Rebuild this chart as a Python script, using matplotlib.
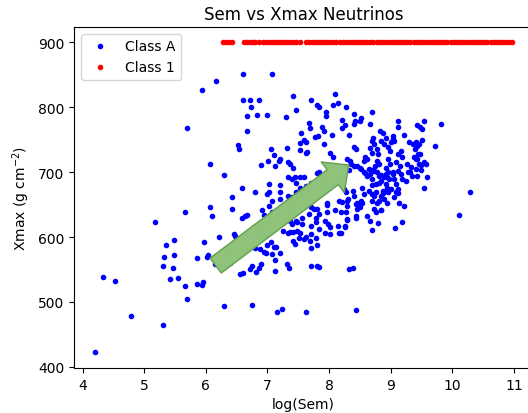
import numpy as np
import matplotlib.pyplot as plt

plt.rcParams['figure.dpi'] = 100

# (log(Sem), Xmax) for class A events
class_a_pts = [
    (4.20, 422), (4.33, 539), (4.53, 533), (4.78, 478), (5.30, 465), (5.17, 623),
    (5.35, 587), (5.48, 595), (5.32, 570), (5.48, 573), (5.31, 556), (5.46, 553),
    (5.42, 535), (5.55, 537), (5.66, 524), (5.70, 504), (5.86, 567), (5.97, 593),
    (6.04, 572), (6.02, 569), (5.85, 528), (5.93, 526), (5.96, 530), (6.22, 600),
    (5.67, 638), (6.06, 646), (6.10, 633), (6.07, 713), (5.69, 768), (5.93, 827),
    (6.17, 840), (6.60, 852), (7.08, 851),
    (6.29, 494), (6.75, 496), (7.15, 484), (7.24, 489), (7.63, 485), (8.43, 488),
    (8.32, 550), (8.39, 553), (10.10, 634), (10.28, 669), (9.81, 775), (9.72, 740),
    (9.59, 693), (9.54, 675),
    (6.60, 811), (6.72, 811), (6.86, 811), (6.74, 801), (7.42, 818), (8.10, 821),
    (7.71, 812), (7.47, 796), (7.83, 800), (7.80, 803), (7.95, 793), (7.95, 787),
    (8.14, 806), (8.07, 803), (8.27, 801), (6.67, 786), (6.83, 788), (6.99, 788),
    (7.30, 785), (7.68, 776), (7.69, 768), (7.89, 769), (7.91, 764), (8.21, 780),
    (8.25, 773), (8.21, 768), (8.40, 789), (8.42, 779), (8.41, 775), (8.69, 793),
    (8.51, 783), (8.50, 779), (8.66, 774),
    (6.67, 763), (7.55, 760), (7.82, 756), (7.77, 754), (8.04, 758), (8.32, 757),
    (7.60, 749), (7.63, 747), (7.52, 745), (7.91, 743), (6.53, 742), (6.54, 735),
    (7.06, 736), (7.31, 738), (7.52, 734), (7.64, 731), (7.63, 729), (8.40, 739),
    (8.44, 735), (8.02, 730), (8.06, 724), (7.10, 727), (7.01, 717), (7.21, 720),
    (7.19, 717), (7.34, 716), (7.36, 712), (7.13, 710), (6.90, 711), (7.41, 706),
    (8.29, 720), (8.34, 718), (8.40, 710), (8.46, 710), (8.35, 713), (8.32, 703),
    (8.50, 706),
    (6.30, 696), (7.33, 693), (7.40, 690), (7.45, 693), (7.53, 693), (7.60, 693),
    (7.83, 700), (7.80, 698), (7.47, 684), (6.59, 676), (6.80, 670), (7.02, 682),
    (7.20, 680), (6.42, 662), (6.99, 666), (7.03, 670), (7.21, 670), (7.33, 664),
    (7.40, 661), (7.53, 665), (7.80, 669), (7.53, 676), (7.47, 670), (7.62, 679),
    (7.70, 684), (8.24, 674), (8.28, 669), (8.38, 671), (8.40, 664), (8.31, 659),
    (6.42, 643), (6.67, 634), (6.58, 630), (6.91, 641), (6.94, 634), (7.02, 648),
    (7.07, 638), (7.21, 659), (7.07, 656), (6.64, 633),
    (7.37, 648), (7.42, 652), (7.48, 646), (7.29, 638), (7.37, 625), (7.47, 625),
    (7.56, 630), (7.67, 635), (7.76, 643), (7.78, 630), (7.26, 610), (7.37, 608),
    (7.48, 610), (6.45, 605), (6.48, 601), (6.64, 598), (6.68, 590), (6.76, 587),
    (6.79, 583), (7.00, 588), (7.10, 584), (6.88, 582), (6.94, 577), (6.98, 575),
    (7.07, 574), (7.20, 575), (7.13, 565), (7.32, 559), (7.35, 553), (6.75, 556),
    (6.86, 552), (6.89, 559), (6.56, 543), (6.61, 544), (6.72, 550), (6.81, 546),
    (7.70, 556), (7.80, 556), (6.39, 560), (7.80, 587), (7.78, 598), (7.69, 594),
    (7.62, 600), (7.59, 597), (7.51, 598), (7.42, 594), (7.45, 589), (7.71, 617),
    (7.79, 623), (7.83, 612), (6.53, 589), (6.15, 559), (7.14, 585), (7.05, 592),
    (7.13, 548), (7.83, 554), (7.70, 583), (7.53, 607), (7.41, 608), (7.34, 606),
    (7.40, 620), (7.48, 623), (7.56, 620), (7.70, 605), (7.94, 607), (8.02, 615),
    (8.01, 605), (7.94, 625), (7.99, 620), (8.14, 617), (8.16, 607), (8.25, 615),
    (8.29, 627), (8.43, 629), (7.97, 638), (8.10, 641), (8.19, 638), (7.70, 646),
    (7.80, 644), (7.83, 635), (7.97, 653), (7.97, 649), (8.16, 656), (8.21, 654),
    (8.29, 656), (8.46, 652), (8.46, 643),
    (8.72, 753), (8.83, 764), (8.87, 761), (8.92, 753), (9.03, 756), (9.04, 751),
    (9.00, 746), (9.12, 779), (9.11, 769), (9.21, 758), (9.43, 773), (9.47, 769),
    (9.54, 779), (9.50, 766), (9.30, 747), (9.41, 746), (9.42, 740), (9.46, 743),
    (9.50, 749), (9.39, 736), (9.36, 743), (9.48, 728),
    (8.67, 738), (8.77, 735), (8.70, 730), (8.79, 728), (8.89, 744), (8.96, 739),
    (8.99, 733), (9.16, 733), (9.12, 728), (9.19, 724), (8.59, 724), (8.61, 720),
    (8.56, 717), (8.77, 717), (8.81, 712), (8.74, 710), (8.70, 703), (8.78, 701),
    (8.96, 720), (8.99, 712), (8.92, 707), (8.96, 701), (9.04, 701), (9.08, 715),
    (9.15, 710), (9.12, 702), (9.27, 713), (9.33, 708), (9.28, 700), (9.43, 720),
    (9.46, 712), (9.41, 705), (9.49, 703), (9.57, 712), (9.37, 724), (9.41, 721),
    (9.45, 728), (9.54, 716), (9.49, 711),
    (8.73, 743), (8.84, 748), (9.06, 748), (8.70, 748),
    (8.59, 698), (8.67, 697), (8.84, 696), (8.94, 693), (9.17, 697), (9.35, 694),
    (8.51, 705), (8.57, 700), (8.61, 694), (8.65, 705), (8.73, 702), (8.70, 689),
    (8.81, 694), (8.81, 684), (8.84, 687), (8.89, 692), (8.92, 697), (8.92, 682),
    (8.94, 676), (9.03, 697), (9.05, 689), (9.08, 682), (9.00, 674), (9.11, 674),
    (9.19, 689), (9.24, 687), (9.31, 700), (9.42, 694), (8.97, 689), (8.76, 682),
    (8.69, 680), (8.88, 668), (8.96, 669), (9.11, 668),
    (8.54, 676), (8.56, 666), (8.65, 671), (8.73, 664), (8.76, 669), (8.84, 664),
    (8.87, 671), (8.70, 666),
    (8.51, 656), (8.43, 651), (8.48, 648), (8.70, 656), (8.78, 653), (8.89, 659),
    (8.94, 653), (9.05, 661), (9.08, 669), (9.22, 648), (9.14, 653), (8.84, 641),
    (8.76, 638), (8.73, 643), (8.29, 648), (8.43, 633), (8.62, 633), (8.81, 656),
    (8.67, 625), (8.79, 622), (8.85, 642), (8.70, 611), (8.29, 628), (8.25, 617),
    (8.19, 607), (9.07, 614), (9.19, 623), (8.27, 639), (8.50, 646), (8.54, 653),
]

# class 1 events all sit at the Xmax = 900 cap
class_1_x = [
    6.28, 6.33, 6.38, 6.43,
    6.62, 6.67, 6.72, 6.77, 6.80,
    6.87, 6.92, 6.97, 7.02, 7.07, 7.12, 7.17, 7.22, 7.27, 7.32, 7.37, 7.42, 7.47, 7.53,
    7.62, 7.67, 7.72, 7.77, 7.82, 7.87, 7.92, 7.97, 8.02, 8.07, 8.12, 8.17, 8.22,
    8.27, 8.32, 8.37, 8.42, 8.47, 8.52, 8.57, 8.62, 8.67, 8.72, 8.77, 8.82, 8.87,
    8.92, 8.97, 9.02, 9.07, 9.12, 9.17, 9.22, 9.27, 9.32, 9.37, 9.42, 9.47, 9.52,
    9.57, 9.62, 9.67, 9.72, 9.77, 9.82, 9.87, 9.92, 9.97, 10.02, 10.07, 10.12,
    10.17, 10.22, 10.27, 10.32, 10.37, 10.42, 10.47, 10.52, 10.57, 10.62, 10.67,
    10.72, 10.77, 10.82, 10.87, 10.92, 10.97,
]
class_1_y = [900] * len(class_1_x)

# trend arrow: tail and tip in data units
arrow_tail = (6.16, 556)
arrow_tip = (8.32, 711)

a = np.array(class_a_pts)

fig = plt.figure(figsize=(5.28, 4.14))
ax = fig.add_axes([0.1402, 0.1087, 0.8693, 0.8237])
ax.plot(a[:, 0], a[:, 1], 'b.', label='Class A')
ax.plot(class_1_x, class_1_y, 'r.', label='Class 1')

ax.annotate("", xy=arrow_tip, xytext=arrow_tail,
            arrowprops=dict(arrowstyle="simple,head_length=1.45,head_width=2.75,tail_width=1.34",
                            fc="#8fc27a", ec="#62a04c", lw=1.0,
                            shrinkA=0, shrinkB=0))

ax.set_title("Sem vs Xmax Neutrinos")
ax.set_xlabel("log(Sem)")
ax.set_ylabel("Xmax (g cm$^{-2}$)")
ax.legend(loc="upper left")

fig.savefig("out.png")
